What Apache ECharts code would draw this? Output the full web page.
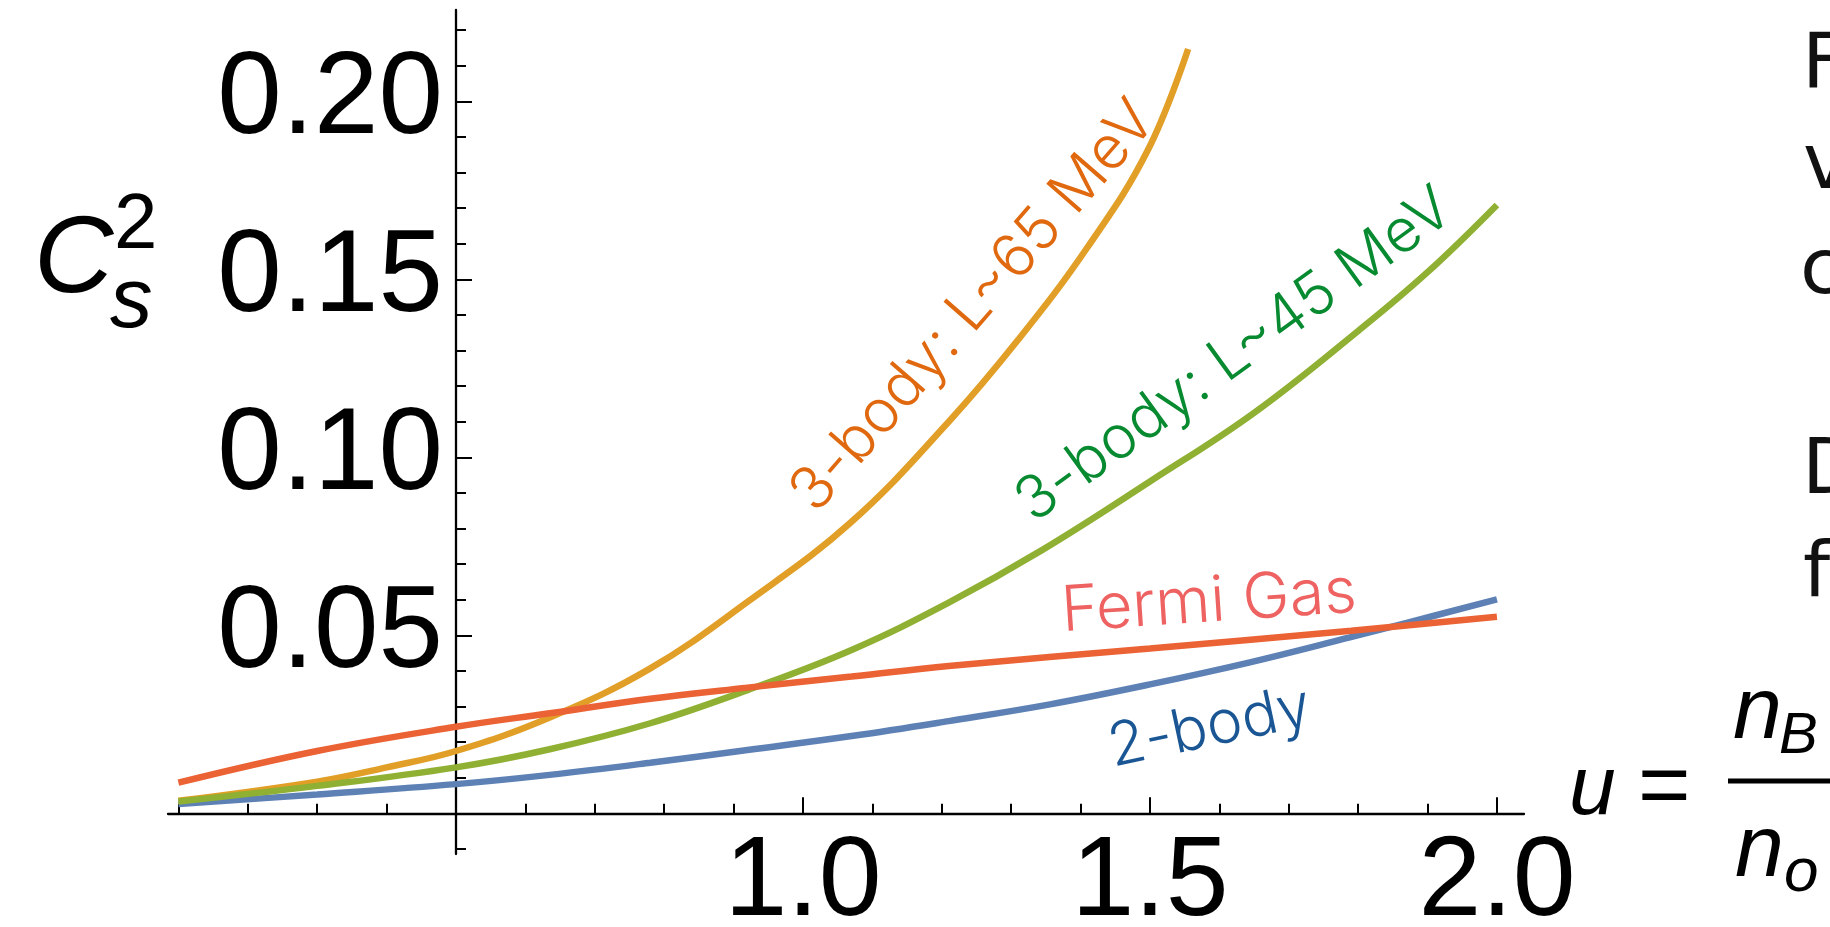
<!DOCTYPE html>
<html>
<head>
<meta charset="utf-8">
<script src="https://cdn.jsdelivr.net/npm/echarts@6/dist/echarts.min.js"></script>
<style>
html,body{margin:0;padding:0;background:#ffffff;}
#chart{width:1830px;height:927px;}
</style>
</head>
<body>
<div id="chart"></div>
<script>
// ---- data ----
const uTwoBody = [0.1, 0.3, 0.5, 0.635, 0.78, 0.92, 1.07, 1.21, 1.356, 1.5, 1.644, 1.788, 1.87, 2.0];
const cTwoBody = [0.0026, 0.0053, 0.0082, 0.0108, 0.0142, 0.0178, 0.0217, 0.0259, 0.0306, 0.0362, 0.0424, 0.0494, 0.0535, 0.0601];

const uL65 = [0.1, 0.3, 0.4, 0.5, 0.635, 0.78, 0.92, 1.07, 1.21, 1.31, 1.41, 1.497, 1.555];
const cL65 = [0.0035, 0.0089, 0.0129, 0.0175, 0.0269, 0.0407, 0.0594, 0.0819, 0.1100, 0.1330, 0.1590, 0.1863, 0.2147];

const uL45 = [0.1, 0.3, 0.5, 0.635, 0.78, 0.92, 1.07, 1.21, 1.345, 1.5, 1.65, 1.8, 1.9, 2.0];
const cL45 = [0.0033, 0.0077, 0.0129, 0.0180, 0.0253, 0.0346, 0.0459, 0.0592, 0.0740, 0.0932, 0.1125, 0.1355, 0.1520, 0.1709];

const uFermi = [0.1, 0.3, 0.5, 0.635, 0.78, 0.92, 1.07, 1.21, 1.5, 1.79, 2.0];
const cFermi = [0.0086, 0.0175, 0.0243, 0.0281, 0.0322, 0.0353, 0.0384, 0.0414, 0.0463, 0.0513, 0.0552];

// axis ticks / labels
const xMinorTicks = [0.1, 0.2, 0.3, 0.4, 0.5, 0.6, 0.7, 0.8, 0.9, 1.0, 1.1, 1.2, 1.3, 1.4, 1.5, 1.6, 1.7, 1.8, 1.9, 2.0];
const xMajorTicks = [1.0, 1.5, 2.0];
const yMinorTicks = [-0.01, 0.01, 0.02, 0.03, 0.04, 0.05, 0.06, 0.07, 0.08, 0.09, 0.10, 0.11, 0.12, 0.13, 0.14, 0.15, 0.16, 0.17, 0.18, 0.19, 0.20, 0.21, 0.22];
const yMajorTicks = [0.05, 0.10, 0.15, 0.20];

// axis ranges
const xRange = [0.085, 2.039];
const yRange = [-0.01143, 0.22565];
const yAxisCrossU = 0.5;

// curve names / labels
const curveNames = ['2-body', '3-body: L~65 MeV', '3-body: L~45 MeV', 'Fermi Gas'];
const curveColors = ['#5E81B5', '#E19F27', '#8FB032', '#EB6235'];
const labelColors = ['#1A5594', '#E0690F', '#078A30', '#EE6262'];
// label anchor (data coords), rotation (deg) and size
const labelU = [1.586, 1.246, 1.622, 1.585];
const labelC = [0.0240, 0.1424, 0.1286, 0.0592];
const labelRot = [12, 49, 36, 3.8];
const labelSize = [60, 60, 60, 63];

const zip = (a, b) => a.map((v, i) => [v, b[i]]);
const seriesData = [zip(uTwoBody, cTwoBody), zip(uL65, cL65), zip(uL45, cL45), zip(uFermi, cFermi)];

const chart = echarts.init(document.getElementById('chart'), null, {renderer: 'canvas'});

const gridLeft = 168, gridRight = 306, gridTop = 10, gridBottom = 73;
const gridW = 1830 - gridLeft - gridRight;
const yAxisOffset = -(yAxisCrossU - xRange[0]) / (xRange[1] - xRange[0]) * gridW;

const axisLineStyle = {color: '#000', width: 2.3};
const tickLine = {color: '#000', width: 2};

const option = {
  backgroundColor: '#ffffff',
  animation: false,
  grid: {left: gridLeft, right: gridRight, top: gridTop, bottom: gridBottom, containLabel: false, outerBoundsMode: 'none'},
  xAxis: [
    {
      type: 'value', min: xRange[0], max: xRange[1], position: 'bottom',
      axisLine: {show: true, onZero: true, lineStyle: axisLineStyle},
      axisTick: {show: true, inside: true, length: 9.5, lineStyle: tickLine, customValues: xMinorTicks},
      axisLabel: {show: false},
      splitLine: {show: false}
    },
    {
      type: 'value', min: xRange[0], max: xRange[1], position: 'bottom',
      axisLine: {show: false, onZero: true},
      axisTick: {show: true, inside: true, length: 16, lineStyle: tickLine, customValues: xMajorTicks},
      axisLabel: {
        show: true, customValues: xMajorTicks, margin: -27,
        formatter: v => v.toFixed(1),
        fontFamily: '"Liberation Sans", Arial, sans-serif', fontSize: 113, color: '#000'
      },
      splitLine: {show: false}
    }
  ],
  yAxis: [
    {
      type: 'value', min: yRange[0], max: yRange[1], position: 'left', offset: yAxisOffset,
      axisLine: {show: true, onZero: false, lineStyle: axisLineStyle},
      axisTick: {show: true, inside: true, length: 10, lineStyle: tickLine, customValues: yMinorTicks},
      axisLabel: {show: false},
      splitLine: {show: false}
    },
    {
      type: 'value', min: yRange[0], max: yRange[1], position: 'left', offset: yAxisOffset,
      axisLine: {show: false, onZero: false},
      axisTick: {show: true, inside: true, length: 16, lineStyle: tickLine, customValues: yMajorTicks},
      axisLabel: {
        show: true, customValues: yMajorTicks, margin: 13,
        formatter: v => v.toFixed(2),
        fontFamily: '"Liberation Sans", Arial, sans-serif', fontSize: 116, color: '#000',
        padding: [0, 0, 12, 0]
      },
      splitLine: {show: false}
    }
  ],
  series: seriesData.map((d, i) => ({
    name: curveNames[i],
    type: 'line',
    xAxisIndex: 0, yAxisIndex: 0,
    data: d,
    showSymbol: false,
    smooth: 0.4,
    lineStyle: {color: curveColors[i], width: 6.5, cap: 'butt'},
    itemStyle: {color: curveColors[i]},
    z: 2 + i
  }))
};

chart.setOption(option);

// ---- text annotations ----
const graphics = [];
for (let i = 0; i < curveNames.length; i++) {
  const p = chart.convertToPixel({xAxisIndex: 0, yAxisIndex: 0}, [labelU[i], labelC[i]]);
  graphics.push({
    type: 'text', x: p[0], y: p[1], rotation: labelRot[i] * Math.PI / 180, z: 20,
    style: {text: curveNames[i], font: '300 ' + labelSize[i] + 'px Inter, "Open Sans", Roboto, sans-serif',
            fill: labelColors[i],
            align: 'center', verticalAlign: 'middle', textAlign: 'center', textVerticalAlign: 'middle'}
  });
}

function txt(s, x, y, font, fill, align) {
  return {type: 'text', x: x, y: y, z: 20,
    style: {text: s, font: font, fill: fill || '#000',
            align: align || 'left', verticalAlign: 'middle', textAlign: align || 'left', textVerticalAlign: 'middle'}};
}

// y-axis title C_s^2
graphics.push(txt('C', 34, 261, 'italic 110px "Liberation Sans", Arial, sans-serif'));
graphics.push(txt('2', 114, 226, '78px "Liberation Sans", Arial, sans-serif'));
graphics.push(txt('s', 110, 303, 'italic 85px "Liberation Sans", Arial, sans-serif'));

// x-axis title u = n_B / n_o
graphics.push(txt('u', 1569, 791, 'italic 84px "Liberation Sans", Arial, sans-serif'));
graphics.push(txt('=', 1638, 790, '90px "Liberation Sans", Arial, sans-serif', '#000'));
graphics.push(txt('n', 1733, 714, 'italic 88px "Liberation Sans", Arial, sans-serif'));
graphics.push(txt('B', 1779, 737, 'italic 58px "Liberation Sans", Arial, sans-serif'));
graphics.push(txt('n', 1735, 852, 'italic 88px "Liberation Sans", Arial, sans-serif'));
graphics.push(txt('o', 1784, 874, 'italic 62px "Liberation Sans", Arial, sans-serif'));
graphics.push({type: 'rect', z: 20, shape: {x: 1728, y: 778.5, width: 110, height: 5}, style: {fill: '#000'}});

// partially visible slide text on the right edge
const sideFont = '77px "DejaVu Sans", Verdana, sans-serif';
graphics.push(txt('F', 1802, 68, sideFont, '#111'));
graphics.push(txt('v', 1803, 168, sideFont, '#111'));
graphics.push(txt('c', 1800, 273, sideFont, '#111'));
graphics.push(txt('D', 1802, 473, sideFont, '#111'));
graphics.push(txt('f', 1803, 576, sideFont, '#111'));

chart.setOption({graphic: graphics});
</script>
</body>
</html>
